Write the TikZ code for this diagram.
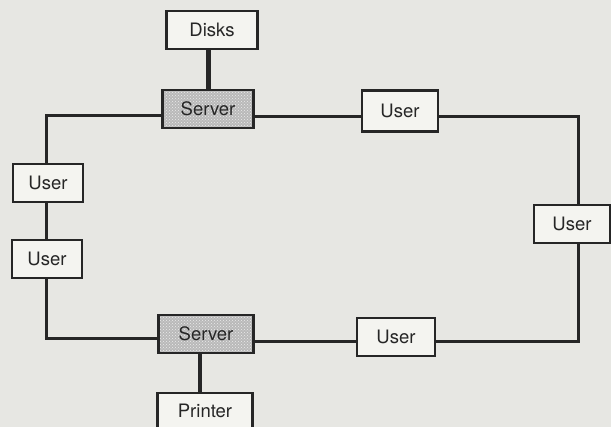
\documentclass[tikz,border=0pt]{standalone}
\usepackage{fontspec}
\setmainfont{TeX Gyre Heros}
\usetikzlibrary{positioning,patterns}
\definecolor{paper}{RGB}{231,231,227}
\definecolor{boxfill}{RGB}{244,244,240}
\definecolor{ink}{RGB}{38,38,38}

\begin{document}
\begin{tikzpicture}[x=1pt,y=-1pt,
% node style
rect/.style={rectangle, draw=ink, line width=2.4pt, fill=boxfill, minimum width=76pt, minimum height=38pt, inner sep=0pt, text=ink, font=\fontsize{18.5}{20}\selectfont},
srv/.style={rect, minimum width=91pt, preaction={fill=gray!55}, pattern=crosshatch dots, pattern color=white!85!gray},
wire/.style={draw=ink, line width=3pt}
]
\useasboundingbox[fill=paper] (0,0) rectangle (611,427);

% nodes
\node[srv] (srv_top) at (208,109) {Server};
\node[rect, minimum width=91pt] (disks) at (212,30) {Disks};
\node[rect, minimum height=41pt] (usr_top) at (400,111) {User};
\node[rect] (usr_right) at (572,224) {User};
\node[srv, minimum width=95pt] (srv_bot) at (206,334) {Server};
\node[rect, minimum width=78pt] (usr_bot) at (396,337) {User};
\node[rect, minimum width=95pt, minimum height=36pt] (printer) at (205,411) {Printer};
\node[rect, minimum width=70pt] (usr_l1) at (48,183) {User};
\node[rect, minimum width=70pt] (usr_l2) at (47,259) {User};

% corners of the ring
\coordinate (ne) at (578,117);
\coordinate (se) at (578,342);
\coordinate (sw) at (46,339);
\coordinate (nw) at (46,116);

% draw lines between nodes
\draw[wire, line width=5pt] (srv_top.north) -- (srv_top.north |- disks.south);
\draw[wire] (srv_top.east |- ne) -- (usr_top.west |- ne);
\draw[wire] (usr_top.east |- ne) -- (ne) -- (usr_right.north -| ne);
\draw[wire] (usr_right.south -| se) -- (se) -- (usr_bot.east |- se);
\draw[wire] (usr_bot.west |- se) -- (srv_bot.east |- se);
\draw[wire] (srv_bot.west |- sw) -- (sw) -- (usr_l2.south -| sw);
\draw[wire] (usr_l2.north -| sw) -- (usr_l1.south -| sw);
\draw[wire] (usr_l1.north -| nw) -- (nw) -- (srv_top.west |- nw);
\draw[wire, line width=4pt] (srv_bot.south -| 200,0) -- (printer.north -| 200,0);

\end{tikzpicture}
\end{document}
